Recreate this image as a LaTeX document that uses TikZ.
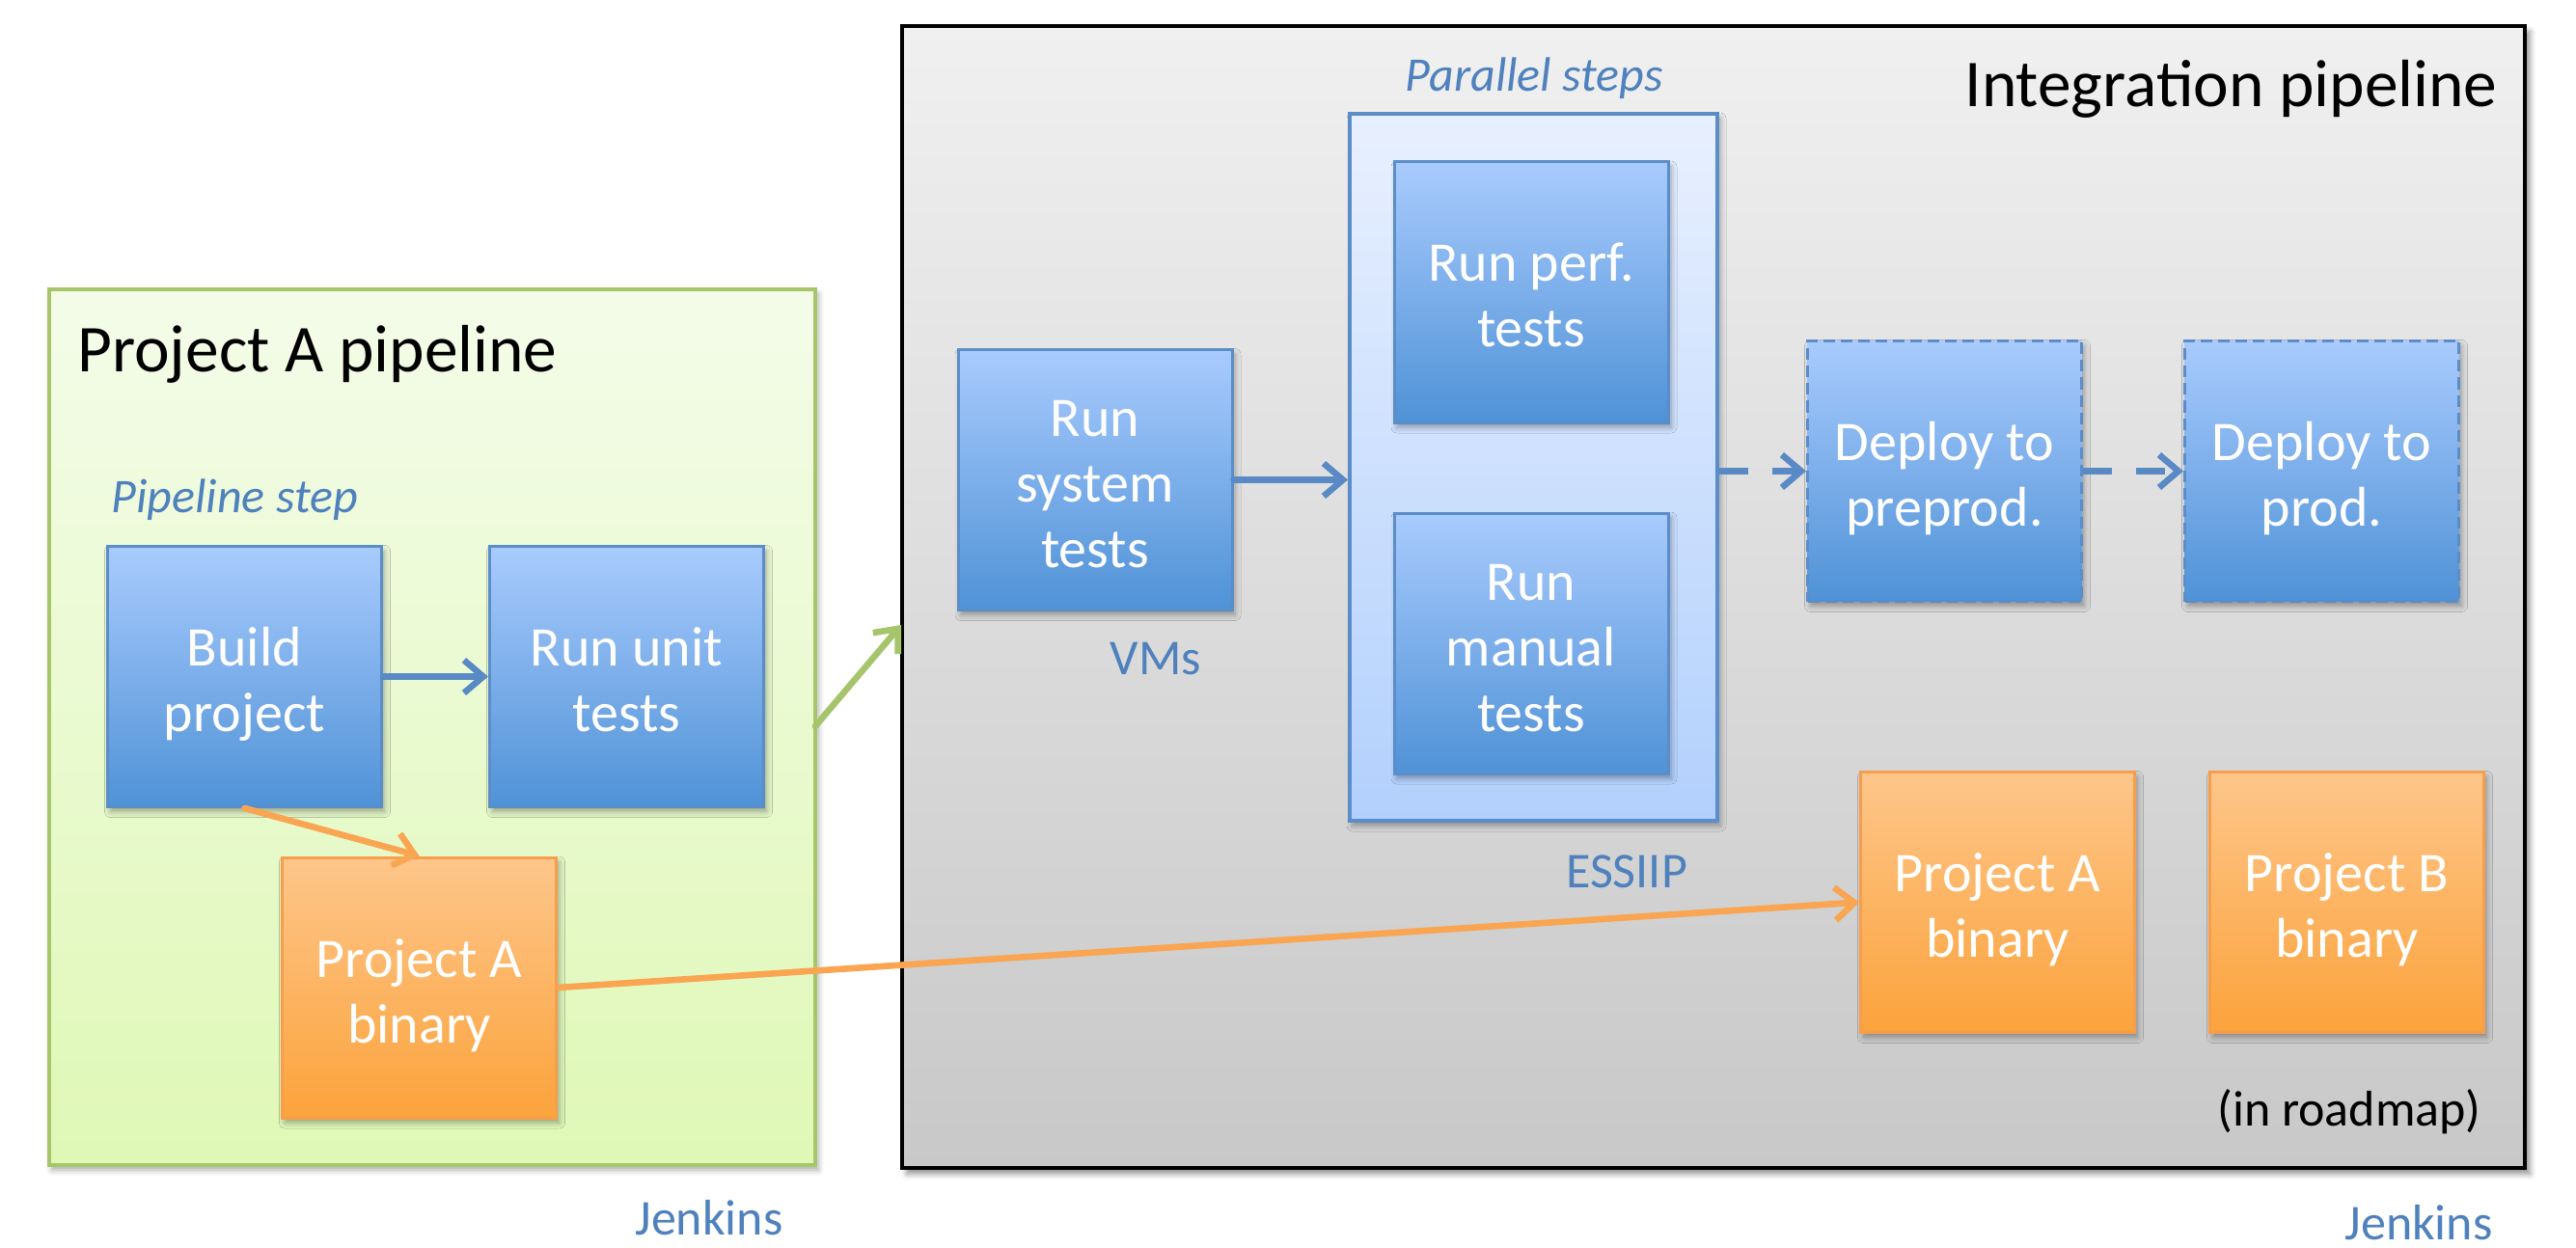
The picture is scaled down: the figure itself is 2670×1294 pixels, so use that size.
\documentclass[tikz,border=0pt]{standalone}
\usepackage{fontspec}
\setmainfont{Carlito}
\usetikzlibrary{arrows.meta,shadows.blur}
\definecolor{blueTop}{HTML}{A9CBFE}
\definecolor{blueBot}{HTML}{4F92D6}
\definecolor{blueBorder}{HTML}{5B8DC8}
\definecolor{orangeTop}{HTML}{FDC68A}
\definecolor{orangeBot}{HTML}{FCA33C}
\definecolor{orangeBorder}{HTML}{F79E4C}
\definecolor{greenTop}{HTML}{F4FCE9}
\definecolor{greenBot}{HTML}{DFF8B6}
\definecolor{greenBorder}{HTML}{A7C66A}
\definecolor{paraTop}{HTML}{E8F0FE}
\definecolor{paraBot}{HTML}{B2D0FD}
\definecolor{intTop}{HTML}{F0F0F0}
\definecolor{intBot}{HTML}{C8C8C8}
\definecolor{lblBlue}{HTML}{4F81BD}
\definecolor{arrBlue}{HTML}{5A8AC6}
\definecolor{arrOrange}{HTML}{F9A552}
\definecolor{arrGreen}{HTML}{A6C46B}
\newcommand{\bxfont}{\fontsize{29}{34}\selectfont}
\newcommand{\ttlfont}{\fontsize{34.7}{40}\selectfont}
\newcommand{\smfont}{\fontsize{26}{30}\selectfont}
% two-line and three-line box texts, first baseline placed relative to the box centre
\newcommand{\twol}[1]{\raisebox{5.5pt}{\begin{tabular}[t]{@{}c@{}}#1\end{tabular}}}
\newcommand{\threel}[1]{\raisebox{22.5pt}{\begin{tabular}[t]{@{}c@{}}#1\end{tabular}}}
\begin{document}
\begin{tikzpicture}[x=0.5pt,y=-0.5pt,
  shd/.style={blur shadow={shadow xshift=1.5pt,shadow yshift=-2.5pt,shadow blur radius=3pt,shadow opacity=35}},
  stepbox/.style={rectangle, draw=blueBorder, line width=1.5pt, top color=blueTop, bottom color=blueBot,
    minimum width=142pt, minimum height=135pt, text=white, font=\bxfont, inner sep=0pt,
    text height=0pt, text depth=0pt, shd},
  dashbox/.style={stepbox, dash pattern=on 6pt off 3pt},
  binbox/.style={stepbox, draw=orangeBorder, top color=orangeTop, bottom color=orangeBot},
  lbl/.style={inner sep=0pt, font=\smfont, text=lblBlue},
  ilbl/.style={inner sep=0pt, font=\fontsize{25}{30}\selectfont\itshape, text=lblBlue},
  ttl/.style={inner sep=0pt, font=\ttlfont, text=black},
  conn/.style={line width=3.3pt, line cap=round, -{Straight Barb[length=10pt,width=17pt]}},
]
\useasboundingbox (0,0) rectangle (2670,1294);

% containers
\node[rectangle, draw=greenBorder, line width=1.8pt, top color=greenTop, bottom color=greenBot,
  minimum width=397pt, minimum height=454pt, inner sep=0pt, shd] (green) at (448,754) {};
\node[rectangle, draw=black, line width=2.2pt, top color=intTop, bottom color=intBot,
  minimum width=841pt, minimum height=592pt, inner sep=0pt,
  blur shadow={shadow xshift=2.5pt,shadow yshift=-3pt,shadow blur radius=3pt,shadow opacity=45}] (integ) at (1776,619) {};
\node[rectangle, draw=blueBorder, line width=2pt, top color=paraTop, bottom color=paraBot,
  minimum width=190.5pt, minimum height=366.5pt, inner sep=0pt, shd] (para) at (1589.5,484.5) {};

% titles and labels
\node[ttl, anchor=base west] (t1) at (80,386) {Project A pipeline};
\node[ttl, anchor=base east] (t2) at (2589,111) {Integration pipeline};
\node[ilbl, anchor=base west] (ps) at (115,531) {Pipeline step};
\node[ilbl, anchor=base] (pps) at (1590,95) {Parallel steps};
\node[lbl, anchor=base] (vms) at (1198,699) {VMs};
\node[lbl, anchor=base] (ess) at (1686,920) {ESSIIP};
\node[lbl, anchor=base] (j1) at (735,1280) {Jenkins};
\node[lbl, anchor=base] (j2) at (2507,1285) {Jenkins};
\node[inner sep=0pt, font=\smfont, text=black, anchor=base east] (road) at (2572,1167) {(in roadmap)};

% step boxes
\node[stepbox] (build) at (253.5,701.5) {\twol{Build\\project}};
\node[stepbox] (unit) at (649.5,701.5) {\twol{Run unit\\tests}};
\node[binbox] (binA) at (434.5,1024) {\twol{Project A\\binary}};
\node[stepbox] (sys) at (1135,497.5) {\threel{Run\\system\\tests}};
\node[stepbox] (perf) at (1587,303) {\twol{Run perf.\\tests}};
\node[stepbox] (man) at (1587,667) {\threel{Run\\manual\\tests}};
\node[dashbox] (dep1) at (2015.5,488.5) {\twol{Deploy to\\preprod.}};
\node[dashbox] (dep2) at (2406.5,488.5) {\twol{Deploy to\\prod.}};
\node[binbox] (binA2) at (2070.5,935.5) {\twol{Project A\\binary}};
\node[binbox] (binB) at (2432.5,935.5) {\twol{Project B\\binary}};

% connectors
\coordinate (ga) at (845,753);
\coordinate (gb) at (934,648);
\draw[conn, draw=arrBlue] (build.east) -- (unit.west);
\draw[conn, draw=arrOrange] (build.south) -- (binA.north);
\draw[conn, draw=arrGreen] (ga) -- (gb);
\draw[conn, draw=arrOrange] (binA.east) -- (binA2.west);
\draw[conn, draw=arrBlue] (sys.east) -- (sys.east -| para.west);
\draw[conn, draw=arrBlue, line cap=butt, dash pattern=on 15pt off 12.5pt] (para.east |- dep1.west) -- (dep1.west);
\draw[conn, draw=arrBlue, line cap=butt, dash pattern=on 15pt off 12.5pt] (dep1.east) -- (dep2.west);
\end{tikzpicture}
\end{document}
